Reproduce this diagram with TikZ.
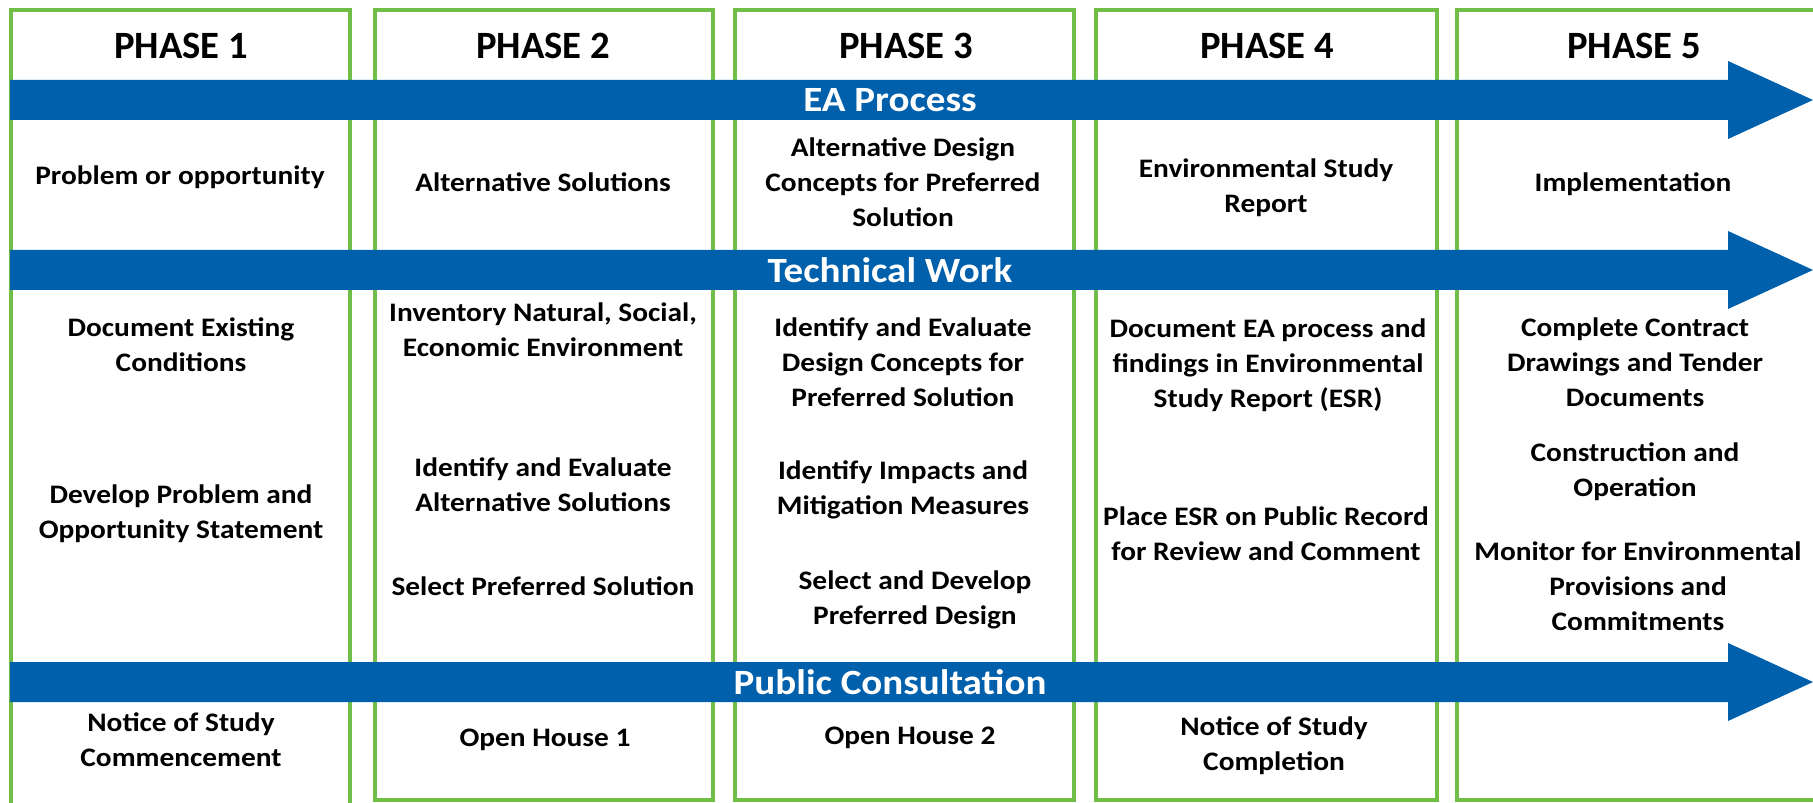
\documentclass[tikz,border=0pt]{standalone}
\usepackage{fontspec}
\setmainfont{Carlito}
\newfontfamily\cellfont{Carlito}[FakeStretch=1.1]
\usepackage{tikz}
\usetikzlibrary{positioning}
\definecolor{eagreen}{RGB}{112,190,70}
\definecolor{eablue}{RGB}{0,96,172}

\tikzset{
  phasebox/.style={draw=eagreen,line width=1.2pt},
  phasetitle/.style={font=\fontsize{11}{13}\selectfont\bfseries,anchor=center},
  bandlabel/.style={font=\cellfont\fontsize{10.1}{12}\selectfont\bfseries,text=white,inner sep=0pt},
  cell/.style={font=\cellfont\fontsize{7.6}{9.9}\selectfont\bfseries,align=center,inner sep=1pt}
}

\begin{document}
\begin{tikzpicture}
  \useasboundingbox (0,0) rectangle (18.13,-8.03);
  \clip (0,0) rectangle (18.13,-8.03);

  % phase columns
  \foreach \l/\r/\b in {0.11/3.50/8.10, 3.75/7.13/8.00, 7.35/10.74/8.00,
                        10.96/14.37/8.00, 14.57/18.40/8.00}
    \draw[phasebox] (\l,-0.10) rectangle (\r,-\b);

  \foreach \x/\t [count=\i] in {1.81/1, 5.43/2, 9.06/3, 12.67/4, 16.34/5}
    \node[phasetitle] (ph\i) at (\x,-0.46) {PHASE \t};

  % process bands
  \foreach \y/\lbl/\nm in {1.00/EA Process/ea, 2.70/Technical Work/tw,
                           6.82/Public Consultation/pc} {
    \fill[eablue] (0.10,{-\y+0.20}) -- (17.28,{-\y+0.20}) -- (17.28,{-\y+0.39})
      -- (18.13,-\y) -- (17.28,{-\y-0.39}) -- (17.28,{-\y-0.20})
      -- (0.10,{-\y-0.20}) -- cycle;
    \node[bandlabel] (\nm) at (8.90,-\y) {\lbl};
  }

  % EA process row
  \node[cell] (ea1) at (1.80,-1.77) {Problem or opportunity};
  \node[cell] (ea2) at (5.43,-1.82) {Alternative Solutions};
  \node[cell] (ea3) at (9.03,-1.82) {Alternative Design\\Concepts for Preferred\\Solution};
  \node[cell] (ea4) at (12.66,-1.88) {Environmental Study\\Report};
  \node[cell] (ea5) at (16.33,-1.84) {Implementation};

  % technical work row
  \node[cell] (tw1a) at (1.81,-3.45) {Document Existing\\Conditions};
  \node[cell] (tw1b) at (1.81,-5.14) {Develop Problem and\\Opportunity Statement};
  \node[cell] (tw2a) at (5.43,-3.30) {Inventory Natural, Social,\\Economic Environment};
  \node[cell] (tw2b) at (5.43,-4.85) {Identify and Evaluate\\Alternative Solutions};
  \node[cell] (tw2c) at (5.43,-5.86) {Select Preferred Solution};
  \node[cell] (tw3a) at (9.03,-3.62) {Identify and Evaluate\\Design Concepts for\\Preferred Solution};
  \node[cell] (tw3b) at (9.03,-4.90) {Identify Impacts and\\Mitigation Measures};
  \node[cell] (tw3c) at (9.15,-6.00) {Select and Develop\\Preferred Design};
  \node[cell] (tw4a) at (12.68,-3.65) {Document EA process and\\findings in Environmental\\Study Report (ESR)};
  \node[cell] (tw4b) at (12.66,-5.34) {Place ESR on Public Record\\for Review and Comment};
  \node[cell] (tw5a) at (16.35,-3.62) {Complete Contract\\Drawings and Tender\\Documents};
  \node[cell] (tw5b) at (16.35,-4.72) {Construction and\\Operation};
  \node[cell] (tw5c) at (16.38,-5.86) {Monitor for Environmental\\Provisions and\\Commitments};

  % public consultation row
  \node[cell] (pc1) at (1.81,-7.40) {Notice of Study\\Commencement};
  \node[cell] (pc2) at (5.45,-7.40) {Open House 1};
  \node[cell] (pc3) at (9.10,-7.38) {Open House 2};
  \node[cell] (pc4) at (12.74,-7.46) {Notice of Study\\Completion};
\end{tikzpicture}
\end{document}
